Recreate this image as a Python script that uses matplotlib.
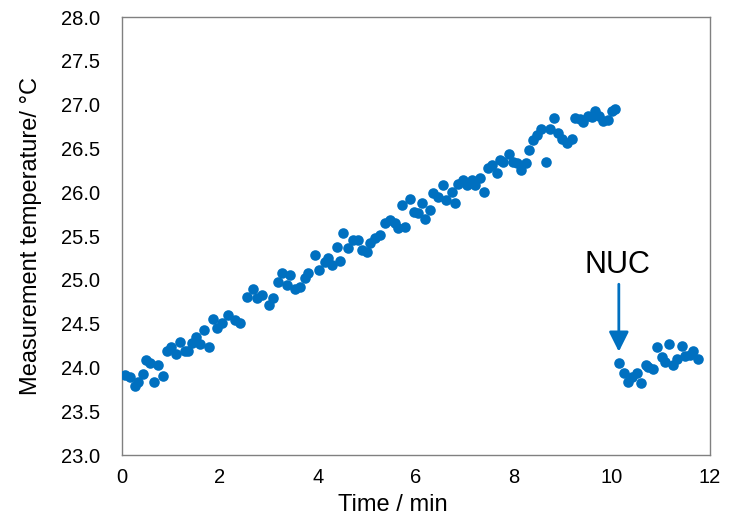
import numpy as np
import matplotlib
matplotlib.use('Agg')
import matplotlib.pyplot as plt

plt.rcParams['font.family'] = ['Liberation Sans', 'DejaVu Sans']

# before NUC: time (min), temperature (degC)
time_before = [0.06, 0.16, 0.27, 0.33, 0.43, 0.49, 0.57, 0.65, 0.73, 0.84,
               0.92, 1.00, 1.10, 1.18, 1.29, 1.35, 1.43, 1.51, 1.59, 1.67,
               1.78, 1.86, 1.94, 2.04, 2.16, 2.31, 2.41, 2.55, 2.67, 2.76,
               2.86, 3.00, 3.08, 3.18, 3.27, 3.37, 3.43, 3.53, 3.63, 3.73,
               3.80, 3.94, 4.02, 4.14, 4.20, 4.29, 4.39, 4.45, 4.51, 4.61,
               4.71, 4.82, 4.90, 5.00, 5.06, 5.16, 5.27, 5.37, 5.47, 5.57,
               5.63, 5.71, 5.78, 5.88, 5.96, 6.04, 6.12, 6.18, 6.29, 6.35,
               6.45, 6.55, 6.61, 6.73, 6.80, 6.86, 6.96, 7.04, 7.14, 7.20,
               7.31, 7.39, 7.47, 7.55, 7.65, 7.71, 7.78, 7.90, 7.98, 8.06,
               8.14, 8.24, 8.31, 8.39, 8.47, 8.55, 8.65, 8.73, 8.82, 8.90,
               8.98, 9.08, 9.18, 9.24, 9.35, 9.41, 9.51, 9.59, 9.65, 9.73,
               9.82, 9.92, 10.00, 10.06]
temp_before = [23.91, 23.89, 23.79, 23.83, 23.92, 24.08, 24.05, 23.83, 24.03, 23.90,
               24.19, 24.23, 24.15, 24.29, 24.19, 24.19, 24.28, 24.35, 24.27, 24.43,
               24.23, 24.55, 24.45, 24.51, 24.60, 24.54, 24.51, 24.80, 24.90, 24.79,
               24.83, 24.71, 24.79, 24.97, 25.08, 24.94, 25.05, 24.90, 24.92, 25.02,
               25.08, 25.28, 25.11, 25.20, 25.25, 25.17, 25.37, 25.22, 25.53, 25.36,
               25.45, 25.46, 25.34, 25.32, 25.42, 25.48, 25.51, 25.65, 25.68, 25.65,
               25.59, 25.85, 25.60, 25.92, 25.77, 25.76, 25.88, 25.70, 25.80, 25.99,
               25.95, 26.08, 25.91, 26.00, 25.88, 26.10, 26.14, 26.08, 26.14, 26.08,
               26.16, 26.00, 26.28, 26.31, 26.22, 26.37, 26.34, 26.44, 26.34, 26.33,
               26.25, 26.33, 26.48, 26.60, 26.65, 26.72, 26.35, 26.72, 26.85, 26.68,
               26.61, 26.56, 26.61, 26.85, 26.84, 26.80, 26.87, 26.86, 26.93, 26.87,
               26.81, 26.82, 26.93, 26.95]

# after NUC
time_after = [10.14, 10.24, 10.33, 10.41, 10.51, 10.59, 10.69, 10.73, 10.84, 10.92,
              11.02, 11.08, 11.16, 11.24, 11.33, 11.43, 11.49, 11.59, 11.65, 11.76]
temp_after = [24.05, 23.94, 23.83, 23.89, 23.94, 23.82, 24.03, 24.00, 23.98, 24.23,
              24.12, 24.06, 24.27, 24.03, 24.10, 24.24, 24.13, 24.14, 24.19, 24.10]

blue = '#0070C0'

fig = plt.figure(figsize=(7.38, 5.18), dpi=100)
ax = fig.add_axes([0.1653, 0.1216, 0.7967, 0.8454])

ax.scatter(time_before, temp_before, s=58, color=blue, linewidths=0, zorder=3)
ax.scatter(time_after, temp_after, s=58, color=blue, linewidths=0, zorder=3)

#NUC arrow
ax.annotate('', xy=(10.14, 24.18), xytext=(10.14, 24.95),
            arrowprops=dict(arrowstyle='-|>', color=blue, lw=2,
                            mutation_scale=30, shrinkA=0, shrinkB=0))
ax.text(10.12, 25.17, 'NUC', fontsize=22, ha='center', va='center')

ax.set_xlim(0, 12)
ax.set_ylim(23, 28)
ax.set_xticks(np.arange(0, 13, 2))
ax.set_yticks(np.arange(23, 28.01, 0.5))
ax.set_yticklabels(['%.1f' % v for v in np.arange(23, 28.01, 0.5)])
ax.tick_params(length=0, labelsize=14.5)
ax.tick_params(axis='x', pad=9)
ax.tick_params(axis='y', pad=16)
for sp in ax.spines.values():
    sp.set_color('#808080')
    sp.set_linewidth(1)

ax.set_xlabel('Time / min', fontsize=17)
ax.xaxis.set_label_coords(0.461, -0.09)
ax.set_ylabel('Measurement temperature/ \u00b0C', fontsize=17)
ax.yaxis.set_label_coords(-0.136, 0.5)

fig.savefig('out.png', dpi=100)
